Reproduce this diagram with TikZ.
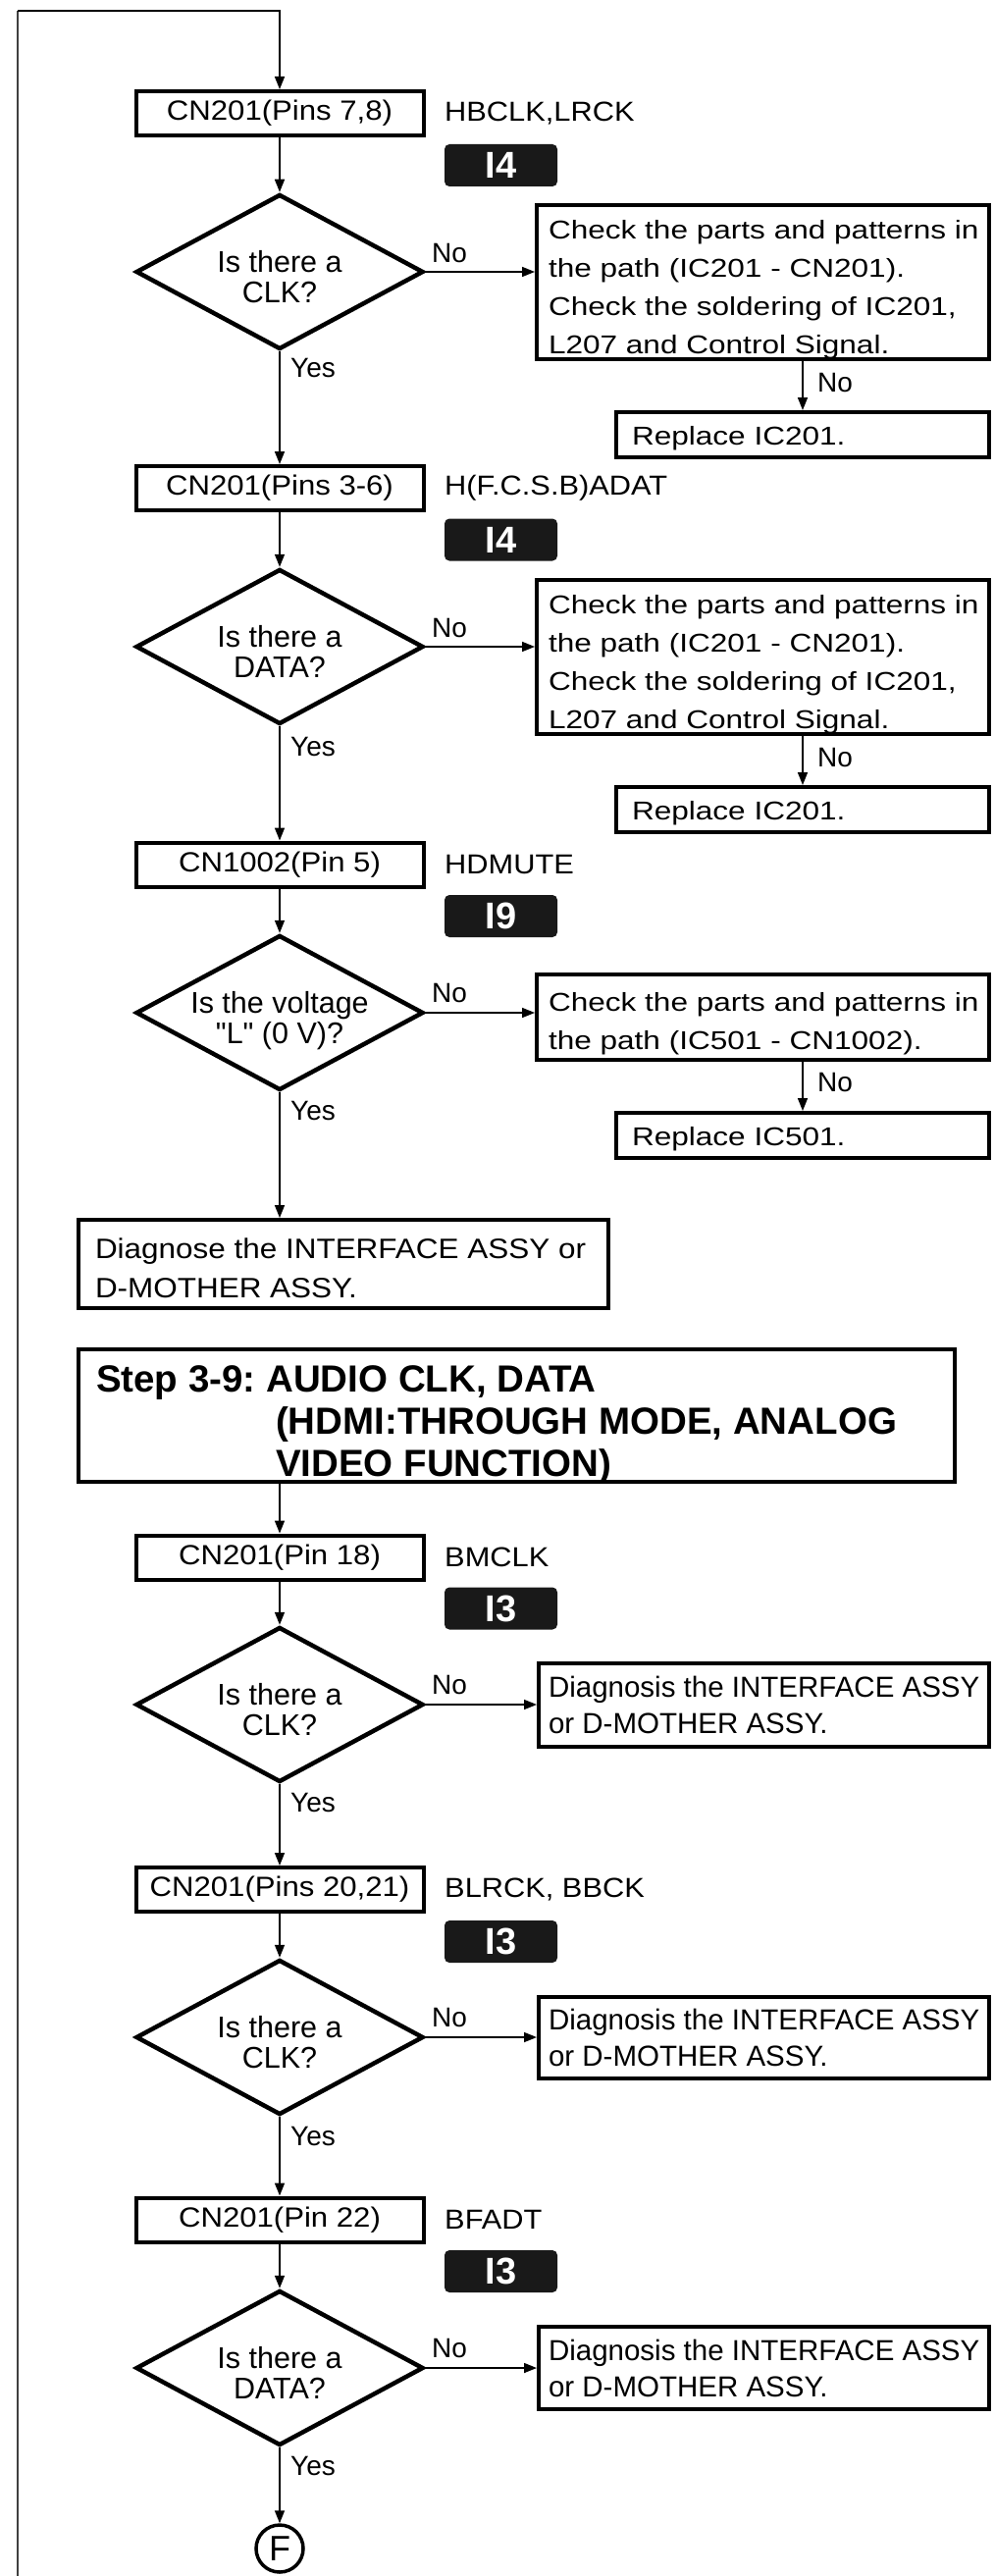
\documentclass[tikz,border=0pt]{standalone}
\usepackage{fontspec}
\setmainfont{Liberation Sans}
\newfontfamily\fA{Liberation Sans}[FakeStretch=1.2]
\newfontfamily\fB{Liberation Sans}[FakeStretch=1.1]
\usetikzlibrary{arrows.meta,shapes.geometric}
\newcommand\DiaTxt[2]{\makebox[0pt]{\smash{\begin{tabular}[t]{@{}c@{}}#1\\#2\end{tabular}}}}
\newcommand\BoxTxt[3]{\makebox[#1][l]{\smash{\raisebox{#2}{\begin{tabular}[t]{@{}l@{}}#3\end{tabular}}}}}
\newcommand\SQ{\XeTeXglyph\XeTeXglyphindex "quotedbl"\relax}
\begin{document}
\frenchspacing
\begin{tikzpicture}[x=1pt,y=-1pt,
  conn/.style={line width=1.6pt},
  arr/.style={conn,-{Triangle[width=10pt,length=13pt]}},
  box/.style={draw,line width=4pt,inner sep=0pt},
  cn/.style={box,minimum width=293pt,minimum height=45pt,font=\fB\fontsize{28.3}{30}\selectfont},
  side/.style={anchor=west,inner sep=0pt,font=\fB\fontsize{28}{30}\selectfont},
  badge/.style={fill=black!90,text=white,rounded corners=5pt,minimum width=115pt,minimum height=43pt,inner sep=0pt,font=\bfseries\fontsize{38}{38}\selectfont},
  dia/.style={diamond,draw,line width=4.5pt,minimum width=293pt,minimum height=158pt,inner sep=0pt,font=\fontsize{30.5}{31}\selectfont},
  chk/.style={box,inner xsep=12pt,inner ysep=0pt,minimum width=461pt,font=\fA\fontsize{26.3}{39}\selectfont},
  rep/.style={box,inner xsep=16pt,inner ysep=0pt,minimum width=380pt,minimum height=46pt,font=\fA\fontsize{26.3}{39}\selectfont},
  diag/.style={box,inner xsep=10pt,inner ysep=0pt,minimum width=459pt,font=\fontsize{29.5}{37}\selectfont},
  lbl/.style={anchor=west,inner sep=0pt,font=\fontsize{28}{30}\selectfont}]
\useasboundingbox (0,0) rectangle (1014,2625);

% ---------- Section 1
\node[cn] (b1) at (285,115.5) {CN201(Pins 7,8)};
\node[side] (s1) at (453,115.5) {HBCLK,LRCK};
\node[badge] (g1) at (510.5,168.5) {I4};
\node[dia] (d1) at (285,277) {\DiaTxt{Is there a}{CLK?}};
\node[chk,minimum height=157pt] (c1) at (777.5,287.5) {\BoxTxt{437pt}{44.5pt}{Check the parts and patterns in\\the path (IC201 - CN201).\\Check the soldering of IC201,\\L207 and Control Signal.}};
\node[rep] (r1) at (818,443) {\BoxTxt{348pt}{-10pt}{Replace IC201.}};
\node[lbl] (n1) at (440,258) {No};
\node[lbl] (y1) at (296,375) {Yes};
\node[lbl] (m1) at (833,390) {No};

% ---------- Section 2
\node[cn] (b2) at (285,497.5) {CN201(Pins 3-6)};
\node[side] (s2) at (453,497.5) {H(F.C.S.B)ADAT};
\node[badge] (g2) at (510.5,550) {I4};
\node[dia] (d2) at (285,659) {\DiaTxt{Is there a}{DATA?}};
\node[chk,minimum height=157pt] (c2) at (777.5,669.5) {\BoxTxt{437pt}{44.5pt}{Check the parts and patterns in\\the path (IC201 - CN201).\\Check the soldering of IC201,\\L207 and Control Signal.}};
\node[rep] (r2) at (818,825) {\BoxTxt{348pt}{-10pt}{Replace IC201.}};
\node[lbl] (n2) at (440,640) {No};
\node[lbl] (y2) at (296,761) {Yes};
\node[lbl] (m2) at (833,772) {No};

% ---------- Section 3
\node[cn] (b3) at (285,881) {CN1002(Pin 5)};
\node[side] (s3) at (453,881) {HDMUTE};
\node[badge] (g3) at (510.5,933.5) {I9};
\node[dia] (d3) at (285,1032) {\DiaTxt{Is the voltage}{\SQ L\SQ\ (0 V)?}};
\node[chk,minimum height=87pt] (c3) at (777.5,1036.5) {\BoxTxt{437pt}{6.5pt}{Check the parts and patterns in\\the path (IC501 - CN1002).}};
\node[rep] (r3) at (818,1157) {\BoxTxt{348pt}{-10pt}{Replace IC501.}};
\node[lbl] (n3) at (440,1012) {No};
\node[lbl] (y3) at (296,1132) {Yes};
\node[lbl] (m3) at (833,1103) {No};
\node[box,inner xsep=17pt,inner ysep=0pt,minimum width=540pt,minimum height=90pt,font=\fB\fontsize{28.6}{40}\selectfont] (dg3) at (350,1288) {\BoxTxt{506pt}{6pt}{Diagnose the INTERFACE ASSY or\\D-MOTHER ASSY.}};

% ---------- Step title
\node[box,inner xsep=18pt,inner ysep=0pt,minimum width=893pt,minimum height=135pt,font=\bfseries\fontsize{38.5}{43}\selectfont] (st) at (526.5,1442.5) {\BoxTxt{857pt}{24.5pt}{Step 3-9: AUDIO CLK, DATA\\\hspace*{183pt}(HDMI:THROUGH MODE, ANALOG\\\hspace*{183pt}VIDEO FUNCTION)}};

% ---------- Section 4
\node[cn] (b4) at (285,1587) {CN201(Pin 18)};
\node[side] (s4) at (453,1587) {BMCLK};
\node[badge] (g4) at (510.5,1639) {I3};
\node[dia] (d4) at (285,1737) {\DiaTxt{Is there a}{CLK?}};
\node[diag,minimum height=85pt] (dg4) at (778.5,1737.5) {\BoxTxt{439pt}{8.5pt}{Diagnosis the INTERFACE ASSY\\or D-MOTHER ASSY.}};
\node[lbl] (n4) at (440,1717) {No};
\node[lbl] (y4) at (296,1837) {Yes};

% ---------- Section 5
\node[cn] (b5) at (285,1925.5) {CN201(Pins 20,21)};
\node[side] (s5) at (453,1925.5) {BLRCK, BBCK};
\node[badge] (g5) at (510.5,1978.5) {I3};
\node[dia] (d5) at (285,2076) {\DiaTxt{Is there a}{CLK?}};
\node[diag,minimum height=83pt] (dg5) at (778.5,2076.5) {\BoxTxt{439pt}{8.5pt}{Diagnosis the INTERFACE ASSY\\or D-MOTHER ASSY.}};
\node[lbl] (n5) at (440,2056) {No};
\node[lbl] (y5) at (296,2177) {Yes};

% ---------- Section 6
\node[cn] (b6) at (285,2262) {CN201(Pin 22)};
\node[side] (s6) at (453,2262) {BFADT};
\node[badge] (g6) at (510.5,2314.5) {I3};
\node[dia] (d6) at (285,2413) {\DiaTxt{Is there a}{DATA?}};
\node[diag,minimum height=84pt] (dg6) at (778.5,2413) {\BoxTxt{439pt}{8pt}{Diagnosis the INTERFACE ASSY\\or D-MOTHER ASSY.}};
\node[lbl] (n6) at (440,2393) {No};
\node[lbl] (y6) at (296,2513) {Yes};
\node[circle,draw,line width=3.5pt,minimum size=48pt,inner sep=0pt,font=\fontsize{36}{36}\selectfont] (F) at (285,2597) {F};

% ---------- Connectors
\coordinate (lb) at (18,2625);
\coordinate (lt) at (18,11);
\draw[line width=1.4pt,black!75] (lb) -- (lt);
\draw[arr] (lt) -| (b1.north);

\draw[arr] (b1.south) -- (d1.north);
\draw[arr] (d1.east) -- (d1.east -| c1.west);
\draw[arr] (c1.south -| r1.north) -- (r1.north);
\draw[arr] (d1.south) -- (b2.north);

\draw[arr] (b2.south) -- (d2.north);
\draw[arr] (d2.east) -- (d2.east -| c2.west);
\draw[arr] (c2.south -| r2.north) -- (r2.north);
\draw[arr] (d2.south) -- (b3.north);

\draw[arr] (b3.south) -- (d3.north);
\draw[arr] (d3.east) -- (d3.east -| c3.west);
\draw[arr] (c3.south -| r3.north) -- (r3.north);
\draw[arr] (d3.south) -- (d3.south |- dg3.north);

\draw[arr] (st.south -| b4.north) -- (b4.north);
\draw[arr] (b4.south) -- (d4.north);
\draw[arr] (d4.east) -- (d4.east -| dg4.west);
\draw[arr] (d4.south) -- (b5.north);

\draw[arr] (b5.south) -- (d5.north);
\draw[arr] (d5.east) -- (d5.east -| dg5.west);
\draw[arr] (d5.south) -- (b6.north);

\draw[arr] (b6.south) -- (d6.north);
\draw[arr] (d6.east) -- (d6.east -| dg6.west);
\draw[arr] (d6.south) -- (F.north);
\end{tikzpicture}
\end{document}
